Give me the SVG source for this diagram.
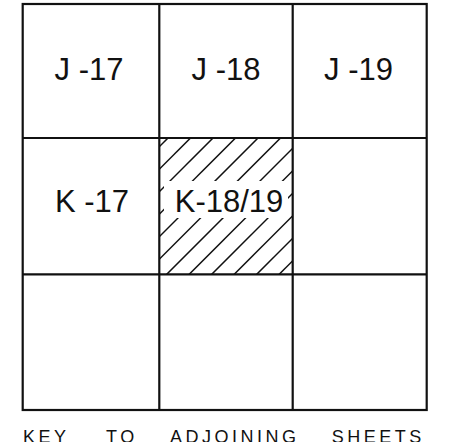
<svg xmlns="http://www.w3.org/2000/svg" width="461" height="442" viewBox="0 0 461 442">
<style>
.cell{fill:none;stroke:#111;stroke-width:2.2}
.lbl{font-family:"Liberation Sans",Arial,sans-serif;font-size:31px;fill:#111;text-anchor:middle}
.cap{font-family:"Liberation Sans",Arial,sans-serif;font-size:18px;fill:#111;letter-spacing:3.5px}
.hatch line{stroke:#111;stroke-width:1.5}
</style>
<defs>
<clipPath id="cellclip"><rect x="159.3" y="138" width="133.4" height="136.3"/></clipPath>
</defs>
<rect width="461" height="442" fill="#fff"/>
<g id="hatch" class="hatch" clip-path="url(#cellclip)">
<line x1="26" y1="280" x2="176" y2="130"/>
<line x1="48.5" y1="280" x2="198.5" y2="130"/>
<line x1="71" y1="280" x2="221" y2="130"/>
<line x1="93.5" y1="280" x2="243.5" y2="130"/>
<line x1="116" y1="280" x2="266" y2="130"/>
<line x1="138.5" y1="280" x2="288.5" y2="130"/>
<line x1="161" y1="280" x2="311" y2="130"/>
<line x1="183.5" y1="280" x2="333.5" y2="130"/>
<line x1="206" y1="280" x2="356" y2="130"/>
<line x1="228.5" y1="280" x2="378.5" y2="130"/>
<line x1="251" y1="280" x2="401" y2="130"/>
<line x1="273.5" y1="280" x2="423.5" y2="130"/>
<rect x="164" y="181" width="124" height="37" fill="#fff"/>
</g>
<g id="connectors">
<line class="cell" x1="22.7" y1="138" x2="426.7" y2="138"/>
<line class="cell" x1="22.7" y1="274.3" x2="426.7" y2="274.3"/>
<line class="cell" x1="159.3" y1="4" x2="159.3" y2="410"/>
<line class="cell" x1="292.7" y1="4" x2="292.7" y2="410"/>
</g>
<rect class="cell" x="22.7" y="4" width="404" height="406"/>
<g id="J17"><text class="lbl" x="89" y="79.5">J -17</text></g>
<g id="J18"><text class="lbl" x="226" y="79.5">J -18</text></g>
<g id="J19"><text class="lbl" x="358.5" y="79.5">J -19</text></g>
<g id="K17"><text class="lbl" x="92" y="211.5">K -17</text></g>
<g id="K1819"><text class="lbl" x="229" y="211.5">K-18/19</text></g>
<g id="K19blank"></g>
<g id="caption">
<text class="cap" x="23" y="443">KEY</text>
<text class="cap" x="106" y="443">TO</text>
<text class="cap" x="170" y="443">ADJOINING</text>
<text class="cap" x="331.7" y="443">SHEETS</text>
</g>
</svg>
